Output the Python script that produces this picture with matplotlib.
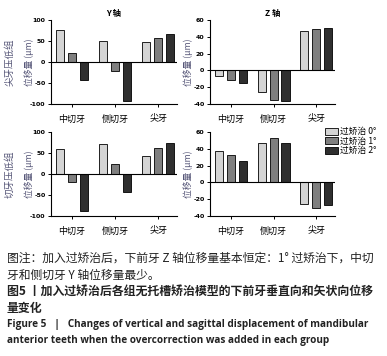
import numpy as np
import matplotlib.pyplot as plt
from matplotlib.patches import Patch

plt.rcParams['font.family'] = ['Noto Sans CJK SC', 'DejaVu Sans']

teeth = ['中切牙', '侧切牙', '尖牙']
series = ['过矫治 0°', '过矫治 1°', '过矫治 2°']
colors = ['#d4d4d4', '#7f7f7f', '#2f2f2f']

# 尖牙压低组
canine_y = [[75, 49, 47], [21, -22, 58], [-44, -94, 66]]
canine_z = [[-7, -26, 47], [-12, -35, 49], [-15, -37, 50]]
# 切牙压低组
incisor_y = [[60, 72, 42], [-20, 24, 63], [-89, -44, 75]]
incisor_z = [[37, 47, -26], [33, 53, -30], [26, 47, -27]]

fig = plt.figure(figsize=(3.87, 3.56), dpi=100)

W, H = 387, 356
def ax_at(l, t, r, b):
    return fig.add_axes([l / W, 1 - b / H, (r - l) / W, (b - t) / H])

panels = [
    (ax_at(51, 20, 177, 104), canine_y, (-100, 100), [-100, -50, 0, 50, 100], 'Y 轴'),
    (ax_at(210, 20, 335, 104), canine_z, (-40, 60), [-40, -20, 0, 20, 40, 60], 'Z 轴'),
    (ax_at(51, 132, 177, 216), incisor_y, (-100, 100), [-100, -50, 0, 50, 100], None),
    (ax_at(210, 132, 335, 216), incisor_z, (-40, 60), [-40, -20, 0, 20, 40, 60], None),
]

x = np.arange(len(teeth))
w = 0.19
off = 0.28
for ax, data, ylim, yt, title in panels:
    for i, vals in enumerate(data):
        ax.bar(x + (i - 1) * off, vals, w, color=colors[i], edgecolor='black', linewidth=0.6)
    ax.axhline(0, color='black', lw=0.8)
    ax.set_ylim(*ylim)
    ax.set_xlim(-0.49, 2.44)
    ax.set_yticks(yt)
    ax.set_yticklabels([str(v) for v in yt], fontsize=4.5, fontweight='bold', family='DejaVu Sans')
    ax.set_xticks(x)
    ax.set_xticklabels(teeth, fontsize=6.5)
    ax.spines['top'].set_visible(False)
    ax.spines['right'].set_visible(False)
    for s in ['left', 'bottom']:
        ax.spines[s].set_linewidth(0.8)
    ax.tick_params(axis='both', length=2.5, width=0.7, pad=1.5)
    ax.tick_params(axis='x', pad=5)
    ax.set_ylabel('位移量 (μm)', fontsize=6.3, color='#555577')
    ax.yaxis.set_label_coords(-0.135, 0.5)
    if title:
        ax.set_title(title, fontsize=6, fontweight='bold', pad=3)

fig.text(10 / W, 1 - 62 / H, '尖牙压低组', rotation=90, fontsize=6.8, color='#555577',
         ha='center', va='center')
fig.text(10 / W, 1 - 174 / H, '切牙压低组', rotation=90, fontsize=6.8, color='#555577',
         ha='center', va='center')

handles = [Patch(facecolor=c, edgecolor='black', linewidth=0.6) for c in colors]
fig.legend(handles, series, loc='upper left', bbox_to_anchor=(321 / W, 1 - 123 / H),
           frameon=False, fontsize=6.3, handlelength=1.4, handleheight=0.9,
           handletextpad=0.25, labelspacing=0.05, borderpad=0)

cap = '#222222'
fig.text(7 / W, 1 - 258 / H, '图注：加入过矫治后，下前牙 Z 轴位移量基本恒定：1° 过矫治下，中切',
         fontsize=8.5, color=cap, va='center')
fig.text(7 / W, 1 - 275 / H, '牙和侧切牙 Y 轴位移量最少。', fontsize=8.5, color=cap, va='center')
fig.text(7 / W, 1 - 291 / H, '图5 丨加入过矫治后各组无托槽矫治模型的下前牙垂直向和矢状向位移',
         fontsize=8.6, color=cap, va='center', fontweight='bold')
fig.text(7 / W, 1 - 308 / H, '量变化', fontsize=8.6, color=cap, va='center', fontweight='bold')
fig.text(7 / W, 1 - 324 / H,
         'Figure 5   |   Changes of vertical and sagittal displacement of mandibular',
         fontsize=7.2, color=cap, va='center', fontweight='bold', family='Open Sans')
fig.text(7 / W, 1 - 341 / H,
         'anterior teeth when the overcorrection was added in each group',
         fontsize=7.2, color=cap, va='center', fontweight='bold', family='Open Sans')

fig.savefig('out.png', dpi=100)
